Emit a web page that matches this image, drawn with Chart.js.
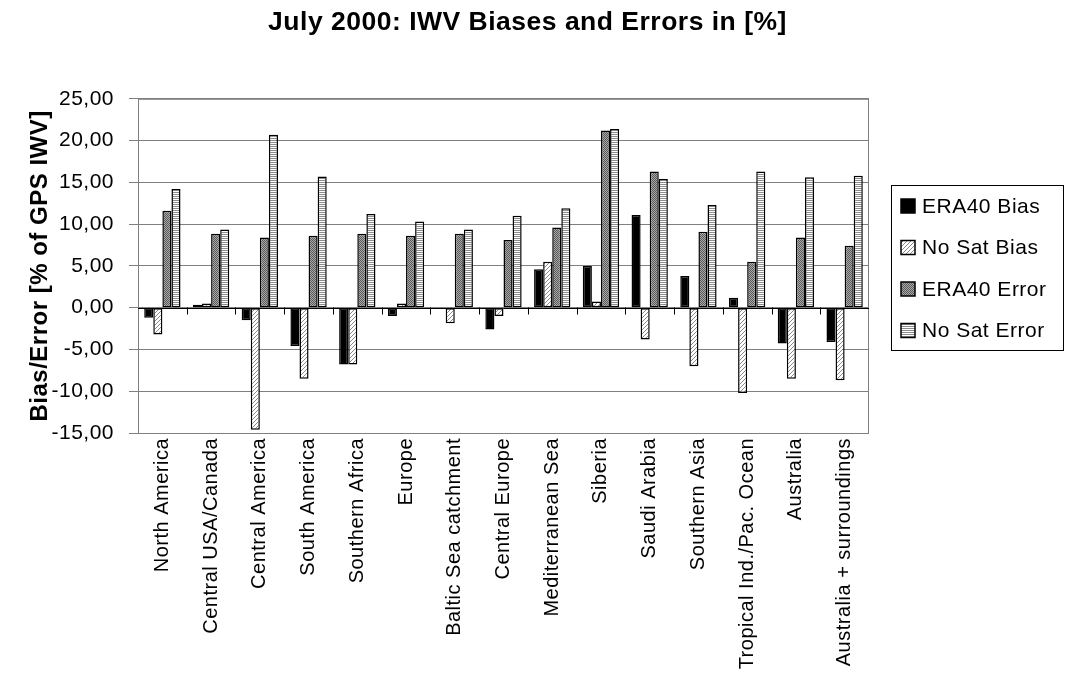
<!DOCTYPE html>
<html>
<head>
<meta charset="utf-8">
<script src="https://cdn.jsdelivr.net/npm/chart.js@4/dist/chart.umd.min.js"></script>
<style>
  body { margin: 0; background: #fff; }
  #wrap { width: 1070px; height: 675px; }
</style>
</head>
<body>
<div id="wrap"><canvas id="grafico" width="1070" height="675"></canvas></div>
<script>
const regioes = ["North America", "Central USA/Canada", "Central America", "South America",
  "Southern Africa", "Europe", "Baltic Sea catchment", "Central Europe", "Mediterranean Sea",
  "Siberia", "Saudi Arabia", "Southern Asia", "Tropical Ind./Pac. Ocean", "Australia",
  "Australia + surroundings"];
const era40Bias = [-1.2, 0.35, -1.5, -4.6, -6.8, -1.0, 0.05, -2.6, 4.6, 5.0, 11.1, 3.8, 1.2, -4.3, -4.1];
const noSatBias = [-3.2, 0.5, -14.6, -8.5, -6.8, 0.5, -1.85, -1.0, 5.5, 0.75, -3.8, -7.0, -10.2, -8.5, -8.7];
const era40Error = [11.6, 8.85, 8.4, 8.6, 8.85, 8.6, 8.85, 8.1, 9.6, 21.2, 16.3, 9.1, 5.5, 8.4, 7.4];
const noSatError = [14.2, 9.35, 20.7, 15.7, 11.2, 10.3, 9.35, 11.0, 11.9, 21.4, 15.4, 12.3, 16.3, 15.6, 15.8];
const yMin = -15, yMax = 25, yStep = 5;

const fonte = "'Liberation Sans', Arial, sans-serif";

function padrao(w, h, desenhar) {
  const c = document.createElement("canvas");
  c.width = w; c.height = h;
  const g = c.getContext("2d");
  desenhar(g);
  return document.getElementById("grafico").getContext("2d").createPattern(c, "repeat");
}

const diagonal = padrao(4, 4, g => {
  g.fillStyle = "#fff"; g.fillRect(0, 0, 4, 4);
  g.fillStyle = "#8a8a8a";
  g.fillRect(3, 0, 1, 1); g.fillRect(2, 1, 1, 1); g.fillRect(1, 2, 1, 1); g.fillRect(0, 3, 1, 1);
});
const pontilhado = padrao(2, 2, g => {
  g.fillStyle = "#a8a8a8"; g.fillRect(0, 0, 2, 2);
  g.fillStyle = "#5a5a5a"; g.fillRect(0, 0, 1, 1); g.fillRect(1, 1, 1, 1);
});
const listrado = padrao(2, 2, g => {
  g.fillStyle = "#fff"; g.fillRect(0, 0, 2, 2);
  g.fillStyle = "#8c8c8c"; g.fillRect(0, 0, 2, 1);
});

// texto do Excel e um pouco espacado
function espacar(chart) {
  chart.ctx.letterSpacing = "0.5px";
}

// moldura, linha do zero com marcas e legenda
const extras = {
  id: "extras",
  beforeUpdate: espacar,
  beforeDraw: espacar,
  beforeDatasetsDraw(chart) {
    const { ctx, chartArea: a } = chart;
    ctx.save();
    ctx.strokeStyle = "#808080";
    ctx.lineWidth = 1;
    ctx.strokeRect(a.left + 0.5, a.top + 0.5, a.right - a.left - 1, a.bottom - a.top);
    ctx.restore();
  },
  afterDatasetsDraw(chart) {
    const { ctx, chartArea: a, scales } = chart;
    const y0 = Math.round(scales.y.getPixelForValue(0)) + 0.5;
    ctx.save();
    ctx.strokeStyle = "#000";
    ctx.lineWidth = 1;
    ctx.beginPath();
    ctx.moveTo(a.left, y0); ctx.lineTo(a.right, y0);
    const passo = (a.right - a.left) / regioes.length;
    for (let i = 1; i < regioes.length; i++) {
      const x = Math.round(a.left + passo * i) + 0.5;
      ctx.moveTo(x, y0 - 1); ctx.lineTo(x, y0 + 6);
    }
    ctx.stroke();

    // legenda
    const lx = a.right + 22, ly = 185, lw = 172, lh = 165;
    ctx.strokeStyle = "#000";
    ctx.strokeRect(lx + 0.5, ly + 0.5, lw, lh);
    ctx.font = "21px " + fonte;
    ctx.textBaseline = "middle";
    chart.data.datasets.forEach((ds, i) => {
      const cy = ly + 21 + i * 41.5;
      ctx.fillStyle = ds.backgroundColor;
      ctx.fillRect(lx + 10, cy - 7, 14, 14);
      ctx.strokeStyle = "#000";
      ctx.lineWidth = 1.5;
      ctx.strokeRect(lx + 10, cy - 7, 14, 14);
      ctx.fillStyle = "#000";
      ctx.fillText(ds.label, lx + 31, cy + 1);
    });
    ctx.restore();
  }
};

const ctx = document.getElementById("grafico").getContext("2d");
new Chart(ctx, {
  type: "bar",
  data: {
    labels: regioes,
    datasets: [
      { label: "ERA40 Bias", data: era40Bias, backgroundColor: "#000" },
      { label: "No Sat Bias", data: noSatBias, backgroundColor: diagonal },
      { label: "ERA40 Error", data: era40Error, backgroundColor: pontilhado },
      { label: "No Sat Error", data: noSatError, backgroundColor: listrado }
    ]
  },
  options: {
    responsive: false,
    animation: false,
    layout: { padding: { left: 0, right: 15, top: 0, bottom: 0 } },
    datasets: {
      bar: {
        borderColor: "#000",
        borderWidth: 1.5,
        borderSkipped: false,
        barPercentage: 1,
        categoryPercentage: 0.745
      }
    },
    plugins: {
      legend: { display: false },
      tooltip: { enabled: false },
      title: {
        display: true,
        text: "July 2000: IWV Biases and Errors in [%]",
        color: "#000",
        font: { family: fonte, size: 26.5, weight: "bold" },
        padding: { top: 7, bottom: 60 }
      }
    },
    scales: {
      x: {
        afterFit(s) { s.height = 242; },
        grid: { display: false, drawTicks: false },
        border: { display: false },
        ticks: {
          color: "#000",
          autoSkip: false,
          maxRotation: 90,
          minRotation: 90,
          padding: 5,
          font: { family: fonte, size: 20 }
        }
      },
      y: {
        min: yMin,
        max: yMax,
        afterFit(s) { s.width = 138; },
        border: { display: true, color: "#808080", width: 1 },
        grid: {
          color: "#808080",
          lineWidth: 1,
          tickLength: 9,
          drawTicks: true
        },
        ticks: {
          stepSize: yStep,
          color: "#000",
          padding: 15,
          font: { family: fonte, size: 21 },
          callback: v => v.toFixed(2).replace(".", ",")
        },
        title: {
          display: true,
          text: "Bias/Error [% of GPS IWV]",
          color: "#000",
          font: { family: fonte, size: 24, weight: "bold" },
          padding: { top: 26, bottom: 0 }
        }
      },
      // espaco reservado para a legenda
      reserva: {
        type: "linear",
        position: "right",
        afterFit(s) { s.width = 186; },
        grid: { display: false, drawTicks: false },
        border: { display: false },
        ticks: { display: false }
      }
    }
  },
  plugins: [extras]
});
</script>
</body>
</html>
